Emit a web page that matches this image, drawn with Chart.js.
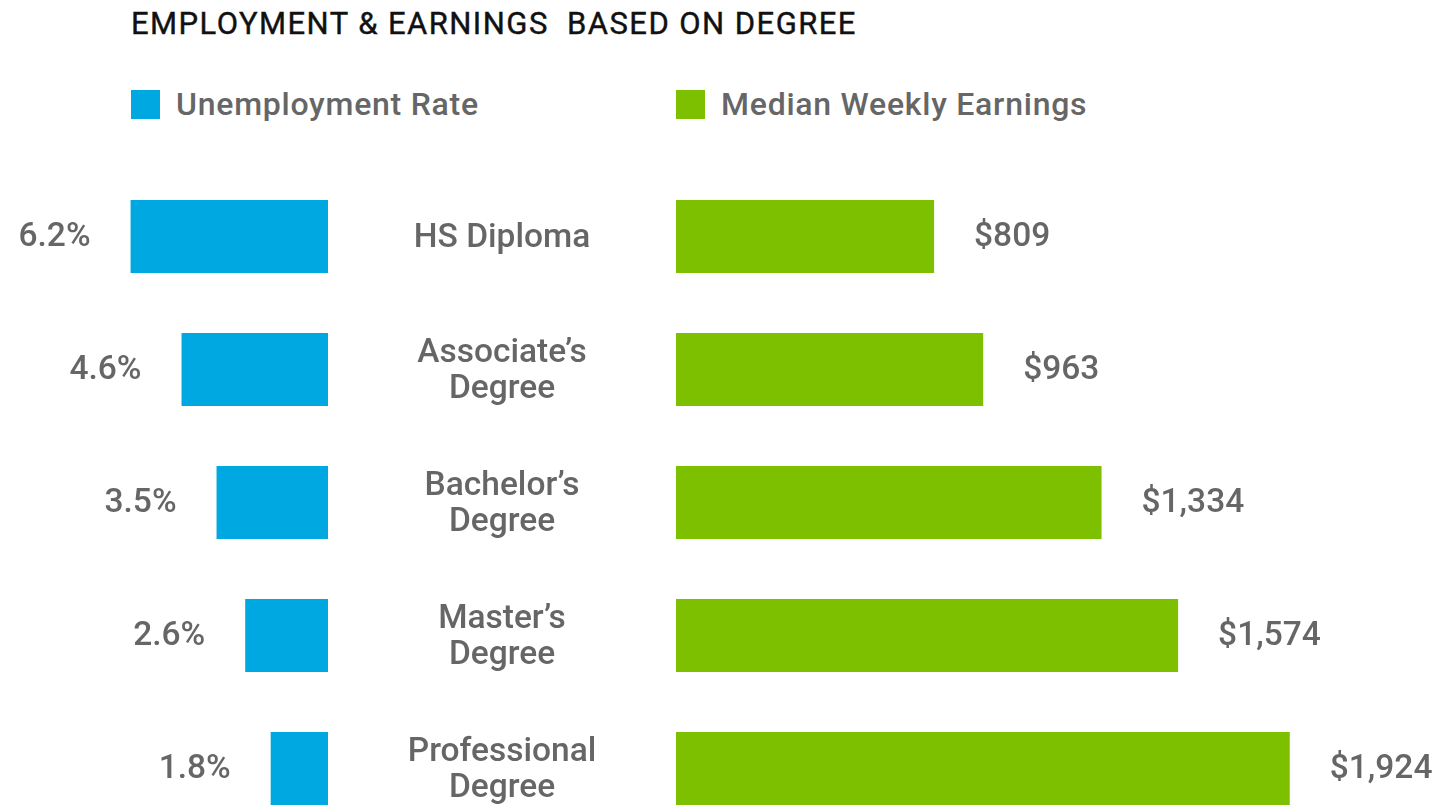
<!DOCTYPE html>
<html>
<head>
<meta charset="utf-8">
<script src="https://cdn.jsdelivr.net/npm/chart.js@4"></script>
<style>
  html, body { margin: 0; padding: 0; background: #fff; overflow: hidden; }
  body { width: 1440px; height: 809px; position: relative; font-family: Roboto, sans-serif; }
  #title { position: absolute; left: 131px; top: 8px; font-size: 31px; font-weight: 400; color: #111; line-height: 1; white-space: pre; letter-spacing: 1.45px; -webkit-text-stroke: 0.4px #111; }
  .legend { position: absolute; top: 86px; height: 36px; display: flex; align-items: center; font-size: 32px; font-weight: 500; color: #666; letter-spacing: 0.75px; }
  .legend .box { width: 29px; height: 29px; margin-right: 16px; }
  #leftChart { position: absolute; left: 0; top: 170px; }
  #rightChart { position: absolute; left: 328px; top: 170px; }
</style>
</head>
<body>
<div id="title">EMPLOYMENT &amp; EARNINGS  BASED ON DEGREE</div>
<div class="legend" style="left:131px"><span class="box" style="background:#00a8e1"></span>Unemployment Rate</div>
<div class="legend" style="left:676px"><span class="box" style="background:#7dc000"></span>Median Weekly Earnings</div>
<canvas id="leftChart" width="328" height="665"></canvas>
<canvas id="rightChart" width="1112" height="665"></canvas>
<script>
const degrees = ['HS Diploma', ['Associate’s', 'Degree'], ['Bachelor’s', 'Degree'], ['Master’s', 'Degree'], ['Professional', 'Degree']];
const unemploymentRate = [6.2, 4.6, 3.5, 2.6, 1.8];
const weeklyEarnings = [809, 963, 1334, 1574, 1924];

const labelSize = 33.5;
const labelFont = '500 ' + labelSize + 'px Roboto';
const gray = '#666';

// draws the value next to the end of every bar
const valueLabels = {
    id: 'valueLabels',
    afterDatasetsDraw(chart, args, opts) {
        const ctx = chart.ctx;
        const values = chart.data.datasets[0].data;
        ctx.save();
        ctx.font = labelFont;
        ctx.fillStyle = gray;
        ctx.textBaseline = 'middle';
        chart.getDatasetMeta(0).data.forEach((bar, i) => {
            const text = opts.format(values[i]);
            if (opts.side === 'left') {
                ctx.textAlign = 'right';
                ctx.fillText(text, bar.x - 40, bar.y + 1);
            } else {
                ctx.textAlign = 'left';
                ctx.fillText(text, bar.x + 40, bar.y + 1);
            }
        });
        ctx.restore();
    }
};

// center the category labels between the two bar groups
const measure = document.createElement('canvas').getContext('2d');
measure.font = labelFont;
let widest = 0;
degrees.flat().forEach(t => { widest = Math.max(widest, measure.measureText(t).width); });
const tickPad = 174 - widest / 2;

new Chart(document.getElementById('leftChart'), {
    type: 'bar',
    data: {
        labels: degrees,
        datasets: [{
            label: 'Unemployment Rate',
            data: unemploymentRate,
            backgroundColor: '#00a8e1',
            barPercentage: 1,
            categoryPercentage: 0.55
        }]
    },
    options: {
        indexAxis: 'y',
        responsive: false,
        animation: false,
        layout: { padding: 0 },
        plugins: {
            legend: { display: false },
            tooltip: { enabled: false },
            valueLabels: { side: 'left', format: v => v.toFixed(1) + '%' }
        },
        scales: {
            x: { display: false, reverse: true, min: 0, max: 10.3 },
            y: { display: false }
        }
    },
    plugins: [valueLabels]
});

new Chart(document.getElementById('rightChart'), {
    type: 'bar',
    data: {
        labels: degrees,
        datasets: [{
            label: 'Median Weekly Earnings',
            data: weeklyEarnings,
            backgroundColor: '#7dc000',
            barPercentage: 1,
            categoryPercentage: 0.55
        }]
    },
    options: {
        indexAxis: 'y',
        responsive: false,
        animation: false,
        layout: { padding: 0 },
        plugins: {
            legend: { display: false },
            tooltip: { enabled: false },
            valueLabels: { side: 'right', format: v => '$' + v.toLocaleString('en-US') }
        },
        scales: {
            x: { display: false, min: 0, max: 2395 },
            y: {
                position: 'left',
                grid: { display: false, drawTicks: false, tickLength: 0 },
                border: { display: false },
                ticks: {
                    crossAlign: 'center',
                    padding: tickPad,
                    labelOffset: 2,
                    color: gray,
                    font: { family: 'Roboto', size: labelSize, weight: '500', lineHeight: 36 / labelSize }
                },
                afterFit(scale) {
                    scale.width = 348;
                    scale.paddingTop = 0;
                    scale.paddingBottom = 0;
                }
            }
        }
    },
    plugins: [valueLabels]
});
</script>
</body>
</html>
